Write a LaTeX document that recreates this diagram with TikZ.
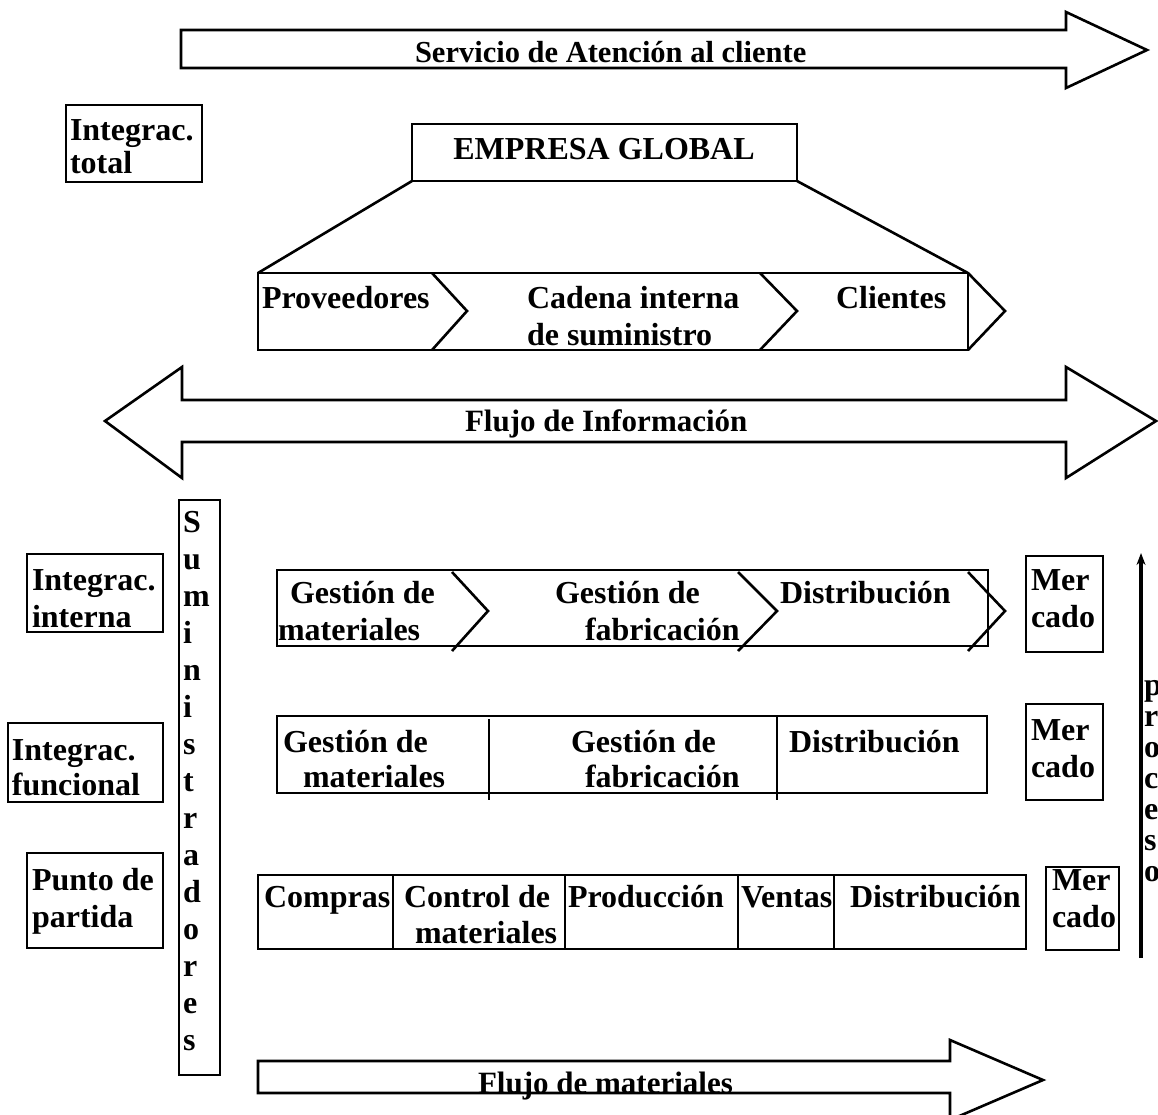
\documentclass[tikz,border=0pt]{standalone}
\usepackage{fontspec}
\setmainfont{Liberation Serif}
\usetikzlibrary{arrows.meta,fit}
\begin{document}
\begin{tikzpicture}[x=1pt,y=-1pt,
  lw/.style={line width=2.6pt},
  box/.style={draw, line width=2.6pt, inner sep=0pt, outer sep=0pt},
  txt/.style={inner sep=0pt, outer sep=0pt, anchor=base west,
              font=\fontsize{32}{37}\selectfont\bfseries},
  bigarrow/.style={draw, line width=2.6pt, line join=miter}]
\useasboundingbox (0,0) rectangle (1158,1114);

% ---- customer service arrow ----
\draw[bigarrow] (181,30) -- (1066,30) -- (1066,12) -- (1147,50) -- (1066,88)
  -- (1066,68) -- (181,68) -- cycle;
\node[txt, font=\fontsize{30.5}{37}\selectfont\bfseries] (serv) at (415,62)
  {Servicio de Atención al cliente};

% ---- total integration ----
\node[box, fit={(66,105) (202,182)}] (total) {};
\node[txt] (totalA) at (70,140) {Integrac.};
\node[txt] (totalB) at (70,173) {total};

\node[box, fit={(412,124) (797,181)}] (emp) {};
\node[txt, anchor=base] (empT) at (604,159) {EMPRESA GLOBAL};

\node[box, fit={(258,273) (968,350)}] (cad) {};
\draw[lw] (emp.south west) -- (cad.north west);
\draw[lw] (emp.south east) -- (cad.north east);
\draw[lw] (432,273) -- (467,311) -- (432,350);
\draw[lw] (760,273) -- (797,311) -- (760,350);
\draw[lw] (968,273) -- (1005,311) -- (968,350);
\node[txt] (prov) at (262,308) {Proveedores};
\node[txt] (cadA) at (527,308) {Cadena interna};
\node[txt] (cadB) at (527,345) {de suministro};
\node[txt] (cli) at (836,308) {Clientes};

% ---- information flow (double arrow) ----
\draw[bigarrow] (182,400) -- (1066,400) -- (1066,367) -- (1156,421) -- (1066,478)
  -- (1066,442) -- (182,442) -- (182,478) -- (105,421) -- (182,367) -- cycle;
\node[txt, font=\fontsize{31}{37}\selectfont\bfseries] (info) at (465,431)
  {Flujo de Información};

% ---- suppliers column ----
\node[box, fit={(179,500) (220,1075)}] (sum) {};
\foreach \ch [count=\i from 0] in {S,u,m,i,n,i,s,t,r,a,d,o,r,e,s}
  \node[txt] (sum\i) at (183,532+37*\i) {\ch};

% ---- internal integration ----
\node[box, fit={(27,554) (163,632)}] (intL) {};
\node[txt] (intLA) at (32,590) {Integrac.};
\node[txt] (intLB) at (32,627) {interna};
\node[box, fit={(277,570) (988,646)}] (intR) {};
\draw[lw] (452,572) -- (488,611) -- (452,651);
\draw[lw] (738,572) -- (777,611) -- (738,651);
\draw[lw] (968,572) -- (1005,611) -- (968,651);
\node[txt] (intA) at (290,603) {Gestión de};
\node[txt] (intB) at (278,640) {materiales};
\node[txt] (intC) at (555,603) {Gestión de};
\node[txt] (intD) at (585,640) {fabricación};
\node[txt] (intE) at (780,603) {Distribución};
\node[box, fit={(1026,556) (1103,652)}] (merA) {};
\node[txt] (merA1) at (1031,590) {Mer};
\node[txt] (merA2) at (1031,627) {cado};

% ---- functional integration ----
\node[box, fit={(8,723) (163,802)}] (funL) {};
\node[txt] (funLA) at (12,760) {Integrac.};
\node[txt] (funLB) at (12,795) {funcional};
\node[box, fit={(277,716) (987,793)}] (funR) {};
\draw[lw] (489,719) -- (489,800);
\draw[lw] (777,716) -- (777,800);
\node[txt] (funA) at (283,752) {Gestión de};
\node[txt] (funB) at (303,787) {materiales};
\node[txt] (funC) at (571,752) {Gestión de};
\node[txt] (funD) at (585,787) {fabricación};
\node[txt] (funE) at (789,752) {Distribución};
\node[box, fit={(1026,704) (1103,800)}] (merB) {};
\node[txt] (merB1) at (1031,740) {Mer};
\node[txt] (merB2) at (1031,777) {cado};

% ---- starting point ----
\node[box, fit={(27,853) (163,948)}] (ptoL) {};
\node[txt] (ptoLA) at (32,890) {Punto de};
\node[txt] (ptoLB) at (32,927) {partida};
\node[box, fit={(258,875) (1026,949)}] (ptoR) {};
\foreach \xx in {393,565,738,834}
  \draw[lw] (\xx,875) -- (\xx,949);
\node[txt] (ptoA) at (264,907) {Compras};
\node[txt] (ptoB) at (404,907) {Control de};
\node[txt] (ptoC) at (415,943) {materiales};
\node[txt] (ptoD) at (568,907) {Producción};
\node[txt] (ptoE) at (741,907) {Ventas};
\node[txt] (ptoF) at (850,907) {Distribución};
\node[box, fit={(1046,867) (1119,950)}] (merC) {};
\node[txt] (merC1) at (1052,890) {Mer};
\node[txt] (merC2) at (1052,927) {cado};

% ---- process arrow ----
\coordinate (procBot) at (1141,958);
\coordinate (procTop) at (1141,553);
\draw[line width=4pt, -{Stealth[length=12pt,width=9pt]}] (procBot) -- (procTop);
\foreach \ch [count=\i from 0] in {p,r,o,c,e,s,o}
  \node[txt] (proc\i) at (1144,695+31*\i) {\ch};

% ---- material flow arrow ----
\draw[bigarrow] (258,1061) -- (950,1061) -- (950,1040) -- (1043,1080) -- (950,1120)
  -- (950,1093) -- (258,1093) -- cycle;
\node[txt, font=\fontsize{31}{37}\selectfont\bfseries] (mat) at (478,1093)
  {Flujo de materiales};
\end{tikzpicture}
\end{document}
